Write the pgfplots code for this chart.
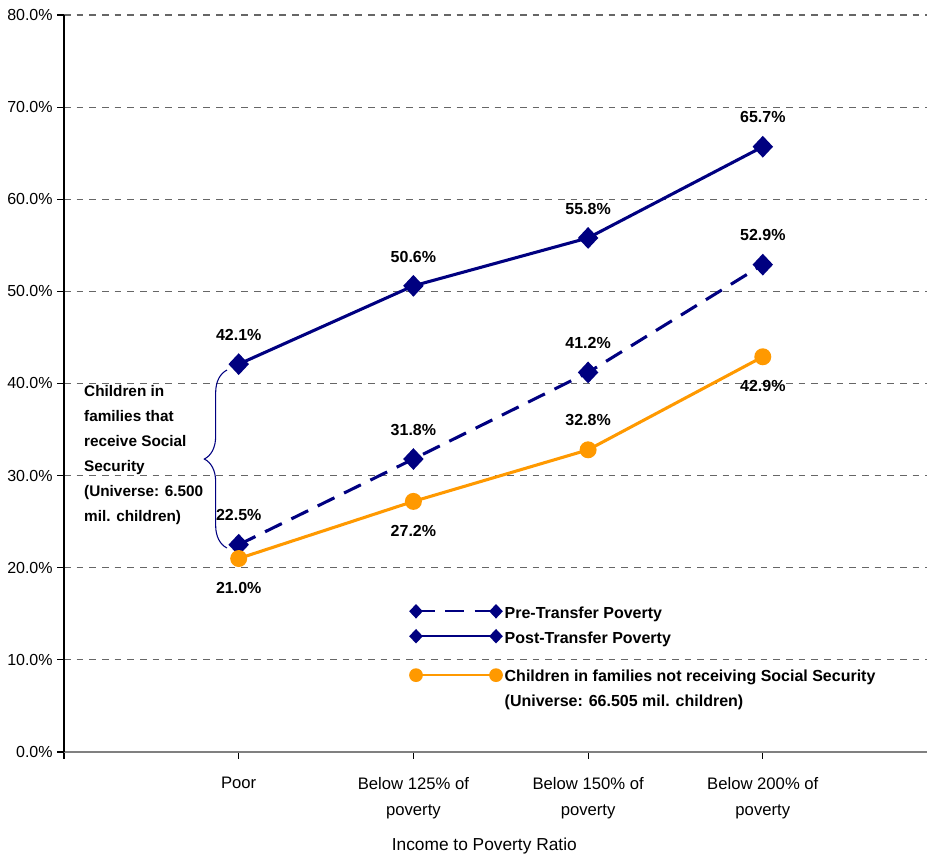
\documentclass[border=0pt]{standalone}
\usepackage{fontspec}
\setmainfont{Liberation Sans}
\usepackage{pgfplots}
\pgfplotsset{compat=1.18}
\usetikzlibrary{decorations.pathreplacing}
\definecolor{navy}{RGB}{0,0,128}
\definecolor{orng}{RGB}{255,153,0}

\pgfplotstableread{
x y dy
0 22.5 22
1 31.8 22
2 41.2 22
3 52.9 22
}\pre
\pgfplotstableread{
x y dy
0 42.1 22
1 50.6 22
2 55.8 22
3 65.7 22
}\post
\pgfplotstableread{
x y dy
0 21.0 -22
1 27.2 -22
2 32.8 22
3 42.9 -22
}\notss

\begin{document}
\begin{tikzpicture}
\begin{axis}[
  scale only axis, width=647.25pt, height=552.75pt,
  xmin=-1, xmax=3.94, ymin=0, ymax=80,
  axis x line*=bottom, axis y line*=left,
  axis line style={-},
  x axis line style={draw=black!50, line width=1pt},
  y axis line style={draw=black, line width=0.8pt},
  ymajorgrids, grid style={draw=black!60, line width=0.8pt, dash pattern=on 5pt off 4.5pt},
  ytick={0,10,...,80},
  yticklabel={\pgfmathprintnumber[fixed,fixed zerofill,precision=1]{\tick}\%},
  /pgf/number format/assume math mode=true,
  xtick={-1,0,1,2,3},
  xticklabels={{},Poor,{Below 125\% of\\poverty},{Below 150\% of\\poverty},{Below 200\% of\\poverty}},
  xticklabel style={align=center, font=\fontsize{12.5}{19.5}\selectfont, yshift=-10.5pt},
  yticklabel style={font=\fontsize{12}{14}\selectfont},
  tick align=outside, major tick length=5pt,
  tick style={black, line width=0.8pt},
  xlabel={Income to Poverty Ratio},
  xlabel style={at={(axis description cs:0.487,0)}, anchor=center, yshift=-70.5pt, font=\fontsize{13}{15}\selectfont},
  legend cell align=left,
  legend style={at={(rel axis cs:0.396,0.205)}, anchor=north west, draw=none, fill=none,
    font=\bfseries\fontsize{12}{14}\selectfont, row sep=4.5pt},
  legend image code/.code={\draw[line width=1.3pt, mark size=4.5pt] plot coordinates {(0pt,1.5pt)(60pt,1.5pt)};},
  nodes near coords={\pgfmathprintnumber[fixed,fixed zerofill,precision=1]{\pgfplotspointmeta}\%},
  nodes near coords style={anchor=center, text=black, font=\bfseries\fontsize{12}{14}\selectfont, yshift=\dy pt},
  visualization depends on={\thisrow{dy}\as\dy},
]
\addplot[navy, line width=2.3pt, dash pattern=on 14pt off 8pt, mark=diamond*, mark size=6.5pt, mark options={solid, xscale=1.25}] table[x=x,y=y] {\pre};
\addlegendentry{Pre-Transfer Poverty}
\addplot[navy, line width=2.3pt, mark=diamond*, mark size=6.5pt, mark options={xscale=1.25}] table[x=x,y=y] {\post};
\addlegendentry{Post-Transfer Poverty}
\addlegendimage{empty legend}
\addlegendentry[inner sep=0pt]{\rule{0pt}{4.5pt}}
\addplot[orng, line width=2.3pt, mark=*, mark size=5.2pt] table[x=x,y=y] {\notss};
\addlegendentry{Children in families not receiving Social Security}
\addlegendimage{empty legend}
\addlegendentry{(Universe: 66.505 mil. children)}

\draw[navy, line width=0.8pt, decorate, decoration={brace, amplitude=17pt}] (axis cs:-0.067,22.14) -- (axis cs:-0.067,41.46);
\node[anchor=west, align=left, font=\bfseries\fontsize{11.5}{18.75}\selectfont, inner sep=0pt] at (axis cs:-0.886,32.18) {Children in\\families that\\receive Social\\Security\\(Universe: 6.500\\mil. children)};

\coordinate (bl) at (rel axis cs:0,0);
\coordinate (tr) at (rel axis cs:1,1);
\end{axis}
\pgfresetboundingbox
\path ([shift={(-48pt,-81.75pt)}]bl) rectangle ([shift={(0pt,11.25pt)}]tr);
\end{tikzpicture}
\end{document}
